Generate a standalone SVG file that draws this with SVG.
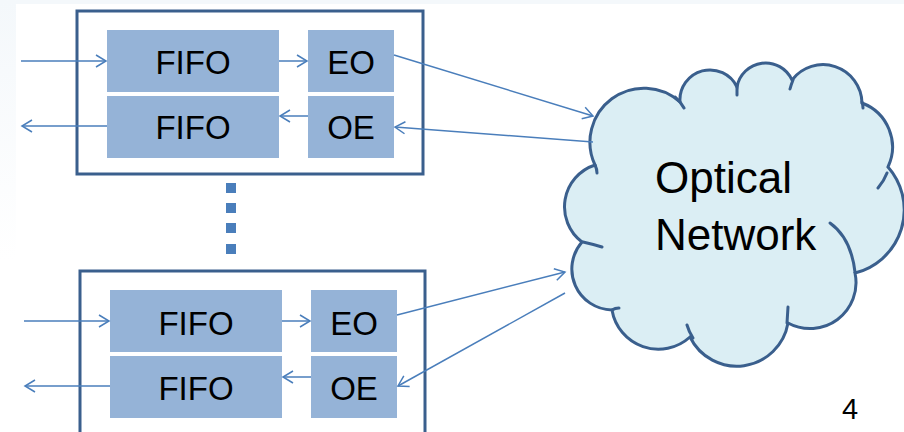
<svg xmlns="http://www.w3.org/2000/svg" width="904" height="432" viewBox="0 0 904 432">
<defs>
<linearGradient id="lg" x1="0" y1="0" x2="0" y2="1">
<stop offset="0" stop-color="#f4f8fb"/>
<stop offset="1" stop-color="#ffffff"/>
</linearGradient>
<marker id="ah" markerUnits="userSpaceOnUse" markerWidth="14" markerHeight="14" refX="11" refY="7" orient="auto" overflow="visible">
<path d="M1,1 L11,7 L1,13" fill="none" stroke="#4a7ebb" stroke-width="1.5"/>
</marker>
<style>
.box{fill:#ffffff;stroke:#3a5f8d;stroke-width:3}
.blk{fill:#95b3d7}
.lbl{font-family:"Liberation Sans",Arial,sans-serif;font-size:33px;fill:#000;text-anchor:middle}
.ln{fill:none;stroke:#4a7ebb;stroke-width:1.5;marker-end:url(#ah)}
.cl{fill:#dbeef4;stroke:#3a5f8d;stroke-width:3}
.tail{fill:none;stroke:#3a5f8d;stroke-width:3;stroke-linecap:round}
.dot{fill:#4a7ebb}
</style>
</defs>
<rect x="0" y="0" width="904" height="432" fill="#ffffff"/>
<rect x="0" y="0" width="904" height="4" fill="#f4f8fb"/>
<rect x="0" y="0" width="16" height="260" fill="url(#lg)"/>

<g id="module-top">
<rect class="box" x="77" y="11" width="346" height="163"/>
<g id="fifo-top-in"><rect class="blk" x="107" y="30" width="172" height="62"/><text class="lbl" x="193" y="74">FIFO</text></g>
<g id="eo-top"><rect class="blk" x="308" y="30" width="86" height="62"/><text class="lbl" x="351" y="74">EO</text></g>
<g id="fifo-top-out"><rect class="blk" x="107" y="96" width="172" height="62"/><text class="lbl" x="193" y="139">FIFO</text></g>
<g id="oe-top"><rect class="blk" x="308" y="96" width="86" height="62"/><text class="lbl" x="351" y="139">OE</text></g>
</g>

<g id="module-bottom">
<rect class="box" x="80" y="271" width="345" height="175"/>
<g id="fifo-bot-in"><rect class="blk" x="110" y="290" width="172" height="62"/><text class="lbl" x="196" y="335">FIFO</text></g>
<g id="eo-bot"><rect class="blk" x="311" y="290" width="86" height="62"/><text class="lbl" x="354" y="335">EO</text></g>
<g id="fifo-bot-out"><rect class="blk" x="110" y="356" width="172" height="62"/><text class="lbl" x="196" y="400">FIFO</text></g>
<g id="oe-bot"><rect class="blk" x="311" y="356" width="86" height="62"/><text class="lbl" x="354" y="400">OE</text></g>
</g>

<g id="ellipsis">
<rect class="dot" x="226" y="183" width="10" height="10"/>
<rect class="dot" x="226" y="203" width="10" height="10"/>
<rect class="dot" x="226" y="223" width="10" height="10"/>
<rect class="dot" x="226" y="244" width="10" height="10"/>
</g>

<g id="cloud">
<path class="cl" d="M595,165 A54,54 0 0 1 680,102 A30,30 0 0 1 737,87 A29,29 0 0 1 792,80 A39,39 0 0 1 862,103 A47,47 0 0 1 888,167 A65,65 0 0 1 855,273 A46,46 0 0 1 788,323 A52,52 0 0 1 690,337 A47,47 0 0 1 612,310 A41,41 0 0 1 582,242 A44,44 0 0 1 595,165 Z"/>
<path class="tail" d="M595,165 Q597,169 597,173 M675,97 Q681,102 684,108 M737,85 L737,95 M793,80 Q791,85 790,89 M862,102 Q863,105 863,108 M887,173 Q884,181 878,188 M830,223 Q851,238 855,272 M788,307 L787,323 M687,325 Q689,332 693,338 M612,310 Q615,308 619,308 M583,242 Q592,244 602,247"/>
<text x="655" y="193" font-family="Liberation Sans, Arial, sans-serif" font-size="44" fill="#000">Optical</text>
<text x="655" y="250" font-family="Liberation Sans, Arial, sans-serif" font-size="44" fill="#000">Network</text>
</g>

<g id="connectors">
<path class="ln" d="M21,61 H106"/>
<path class="ln" d="M279,61 H307"/>
<path class="ln" d="M308,116 H280"/>
<path class="ln" d="M107,126 H22"/>
<path class="ln" d="M394,55 L593,116"/>
<path class="ln" d="M593,142 L395,127"/>
<path class="ln" d="M24,321 H109"/>
<path class="ln" d="M282,321 H310"/>
<path class="ln" d="M311,377 H283"/>
<path class="ln" d="M110,386 H25"/>
<path class="ln" d="M397,315 L565,272"/>
<path class="ln" d="M565,293 L398,386"/>
</g>

<text x="850" y="419" font-family="Liberation Sans, Arial, sans-serif" font-size="29" fill="#000" text-anchor="middle">4</text>
</svg>
